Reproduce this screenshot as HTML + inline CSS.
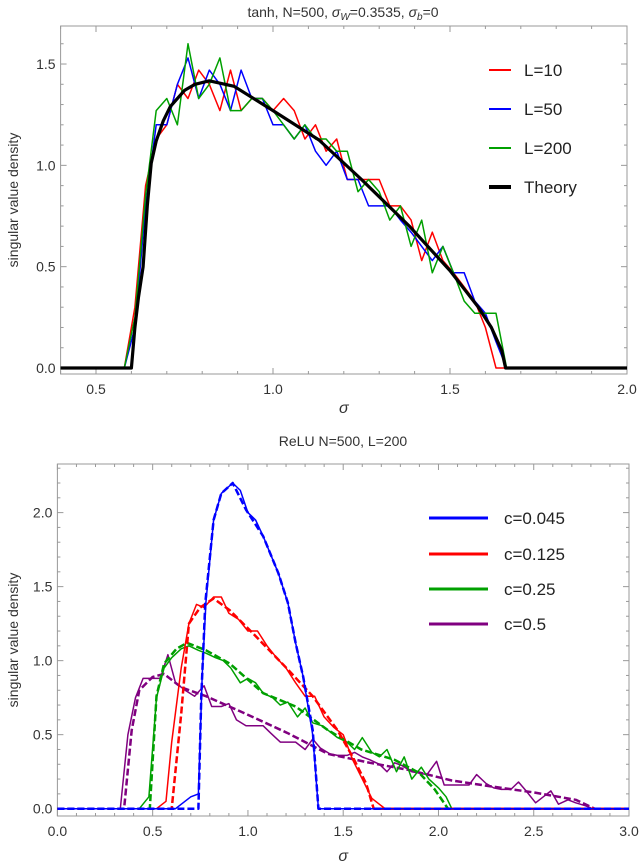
<!DOCTYPE html>
<html><head><meta charset="utf-8"><style>
html,body{margin:0;padding:0;background:#fff;}
svg{display:block;font-family:"Liberation Sans",sans-serif;}
</style></head><body>
<svg id="fig" width="640" height="865" viewBox="0 0 640 865">
<text x="343" y="17" text-anchor="middle" font-size="14" fill="#333">tanh, N=500, <tspan font-style="italic">σ</tspan><tspan font-style="italic" font-size="10" dy="3">W</tspan><tspan dy="-3">=0.3535, </tspan><tspan font-style="italic">σ</tspan><tspan font-style="italic" font-size="10" dy="3">b</tspan><tspan dy="-3">=0</tspan></text>
<text x="343" y="446" text-anchor="middle" font-size="14" fill="#333">ReLU N=500, L=200</text>
<g id="top"></g>
<g id="bot"></g>
</svg>
<script>
// ---- top chart data ----
const topX = [0.58,0.61,0.64,0.67,0.70,0.73,0.76,0.79,0.82,0.85,0.88,0.91,0.94,0.97,1.00,1.03,1.06,1.09,1.12,1.15,1.18,1.21,1.24,1.27,1.30,1.33,1.36,1.39,1.42,1.45,1.48,1.51,1.54,1.57,1.60,1.63,1.66];
const redL10 = [0,0.3,0.9,1.13,1.2,1.4,1.33,1.47,1.4,1.27,1.47,1.27,1.33,1.33,1.27,1.33,1.27,1.13,1.2,1.07,1.13,0.93,0.93,0.93,0.93,0.8,0.8,0.73,0.53,0.67,0.53,0.47,0.4,0.33,0.2,0,0];
const blueL50 = [0,0.2,0.8,1.2,1.2,1.4,1.53,1.33,1.47,1.4,1.27,1.47,1.33,1.33,1.2,1.2,1.13,1.2,1.07,1.0,1.07,0.93,0.93,0.8,0.8,0.8,0.73,0.67,0.6,0.53,0.6,0.47,0.47,0.33,0.27,0.13,0];
const greenL200 = [0,0.25,0.85,1.27,1.33,1.2,1.6,1.33,1.4,1.53,1.27,1.27,1.33,1.33,1.27,1.2,1.13,1.2,1.13,1.13,1.07,1.07,0.87,0.93,0.87,0.73,0.8,0.6,0.73,0.47,0.6,0.47,0.33,0.27,0.27,0.27,0];
const theoryX = [0.4,0.6,0.61,0.62,0.633,0.645,0.656,0.67,0.69,0.71,0.75,0.78,0.82,0.89,1.0,1.13,1.25,1.385,1.5,1.58,1.617,1.646,1.657,2.0];
const theoryY = [0,0,0.2,0.35,0.5,0.8,1.01,1.12,1.22,1.29,1.37,1.40,1.417,1.39,1.27,1.125,0.93,0.70,0.48,0.30,0.20,0.087,0,0];
const topXTicks = ["0.5","1.0","1.5","2.0"];
const topYTicks = ["0.0","0.5","1.0","1.5"];
// ---- bottom chart data ----
const blueThX = [0,0.74,0.755,0.776,0.82,0.86,0.92,0.99,1.08,1.16,1.21,1.25,1.29,1.34,1.37,3.0];
const blueThY = [0,0,0.76,1.39,1.95,2.13,2.2,2.02,1.84,1.59,1.39,1.12,0.89,0.53,0,0];
const blueEmX = [0,0.62,0.7,0.74,0.76,0.78,0.82,0.86,0.92,0.96,1.0,1.04,1.08,1.16,1.21,1.25,1.29,1.34,1.37,3.0];
const blueEmY = [0,0,0.08,0.1,0.9,1.4,1.95,2.13,2.2,2.15,2.0,1.95,1.84,1.59,1.39,1.12,0.89,0.5,0,0];
const redThX = [0,0.6,0.65,0.69,0.75,0.82,0.905,1.03,1.21,1.34,1.47,1.55,1.62,1.66,3.0];
const redThY = [0,0,0.64,1.25,1.36,1.42,1.34,1.18,0.94,0.76,0.53,0.35,0.17,0,0];
const redEmX = [0,0.52,0.57,0.6,0.65,0.69,0.73,0.77,0.82,0.86,0.9,0.95,1.0,1.05,1.1,1.15,1.2,1.25,1.3,1.35,1.4,1.45,1.5,1.55,1.6,1.65,1.72,3.0];
const redEmY = [0,0,0.05,0.45,0.95,1.25,1.38,1.36,1.43,1.43,1.32,1.28,1.2,1.2,1.1,1.02,0.95,0.85,0.76,0.76,0.62,0.55,0.5,0.33,0.2,0.07,0,0];
const greenThX = [0,0.485,0.52,0.56,0.625,0.68,0.78,0.905,1.08,1.25,1.42,1.595,1.77,1.9,1.98,2.05,3.0];
const greenThY = [0,0,0.76,0.98,1.08,1.12,1.07,0.98,0.78,0.69,0.53,0.40,0.33,0.24,0.13,0,0];
const greenEmX = [0,0.43,0.48,0.52,0.56,0.6,0.65,0.69,0.74,0.78,0.83,0.87,0.91,0.96,1.0,1.04,1.08,1.13,1.17,1.21,1.26,1.3,1.34,1.39,1.43,1.47,1.52,1.56,1.6,1.65,1.69,1.73,1.78,1.82,1.86,1.91,1.95,2.0,2.04,2.07,3.0];
const greenEmY = [0,0,0.08,0.75,0.95,1.02,1.08,1.1,1.07,1.05,1.02,1.0,0.95,0.85,0.88,0.85,0.78,0.75,0.7,0.72,0.62,0.68,0.58,0.56,0.52,0.48,0.45,0.4,0.48,0.38,0.35,0.4,0.25,0.35,0.2,0.28,0.2,0.14,0.08,0,0];
const purpThX = [0,0.35,0.39,0.43,0.5,0.56,0.65,0.78,0.99,1.21,1.42,1.64,1.85,2.07,2.28,2.5,2.72,2.82,3.0];
const purpThY = [0,0,0.53,0.8,0.89,0.91,0.82,0.76,0.64,0.51,0.37,0.31,0.26,0.19,0.15,0.11,0.06,0,0];
const purpEmX = [0,0.33,0.37,0.41,0.45,0.5,0.54,0.58,0.62,0.67,0.72,0.77,0.81,0.86,0.9,0.94,0.99,1.03,1.08,1.12,1.17,1.21,1.25,1.3,1.34,1.38,1.43,1.47,1.52,1.56,1.6,1.64,1.69,1.73,1.77,1.81,1.86,1.9,1.94,1.99,2.03,2.07,2.12,2.16,2.2,2.25,2.29,2.33,2.38,2.42,2.46,2.51,2.55,2.59,2.63,2.68,2.72,2.77,2.81,3.0];
const purpEmY = [0,0,0.5,0.75,0.88,0.88,0.88,1.04,0.85,0.8,0.76,0.83,0.69,0.69,0.71,0.6,0.56,0.56,0.56,0.51,0.45,0.45,0.45,0.4,0.47,0.41,0.37,0.36,0.36,0.38,0.35,0.33,0.3,0.25,0.31,0.29,0.25,0.24,0.23,0.32,0.16,0.16,0.16,0.16,0.23,0.17,0.14,0.13,0.13,0.18,0.12,0.04,0.08,0.12,0.03,0.06,0.04,0.02,0,0];
const botXTicks = ["0.0","0.5","1.0","1.5","2.0","2.5","3.0"];
const botYTicks = ["0.0","0.5","1.0","1.5","2.0"];

const NS="http://www.w3.org/2000/svg";
function mk(parent,tag,attrs){const e=document.createElementNS(NS,tag);for(const k in attrs)e.setAttribute(k,attrs[k]);parent.appendChild(e);return e;}

function axes(g,L,R,T,B,xmin,xmax,ymin,ymax,xt,yt,minorX,minorY,xlabelY){
  const sx=v=>L+(v-xmin)/(xmax-xmin)*(R-L);
  const sy=v=>B-(v-ymin)/(ymax-ymin)*(B-T);
  const fr=mk(g,'rect',{x:L,y:T,width:R-L,height:B-T,fill:'none',stroke:'#999','stroke-width':1});
  
  
  for(let v=Math.ceil(xmin/minorX-1e-6)*minorX;v<=xmax+1e-9;v+=minorX){
    const major=Math.abs(v/0.5-Math.round(v/0.5))<1e-6;const len=major?6:3;const x=sx(v);
    mk(g,'line',{x1:x,x2:x,y1:B,y2:B-len,stroke:'#999'});mk(g,'line',{x1:x,x2:x,y1:T,y2:T+len,stroke:'#999'});
  }
  for(let v=Math.ceil(ymin/minorY-1e-6)*minorY;v<=ymax+1e-9;v+=minorY){
    const major=Math.abs(v/0.5-Math.round(v/0.5))<1e-6;const len=major?6:3;const y=sy(v);
    mk(g,'line',{x1:L,x2:L+len,y1:y,y2:y,stroke:'#999'});mk(g,'line',{x1:R,x2:R-len,y1:y,y2:y,stroke:'#999'});
  }
  xt.forEach(s=>{const t=mk(g,'text',{x:sx(parseFloat(s)),y:B+20,'text-anchor':'middle','font-size':14,fill:'#333'});t.textContent=s;
    
    });
  yt.forEach(s=>{const t=mk(g,'text',{x:L-5,y:sy(parseFloat(s))+5,'text-anchor':'end','font-size':14,fill:'#333'});t.textContent=s;
    
    });
  const xl=mk(g,'text',{x:(L+R)/2,y:xlabelY,'text-anchor':'middle','font-size':16,'font-style':'italic',fill:'#333'});xl.textContent='σ';
  
  
  const yl=mk(g,'text',{x:0,y:0,'text-anchor':'middle','font-size':14,fill:'#333',transform:`translate(18,${(T+B)/2}) rotate(-90)`});yl.textContent='singular value density';
  
  
  return {sx,sy};
}
function series(g,ax,xs,ys,color,w,dash,name){
  const d=xs.map((x,i)=>(i?'L':'M')+ax.sx(x).toFixed(1)+','+ax.sy(ys[i]).toFixed(1)).join('');
  const p=mk(g,'path',{d,fill:'none',stroke:color,'stroke-width':w,'stroke-linejoin':'round'});
  if(dash)p.setAttribute('stroke-dasharray',dash);
  
  
}
function legend(g,x1,x2,tx,y,color,w,label,fs,name){
  const l=mk(g,'line',{x1,x2,y1:y,y2:y,stroke:color,'stroke-width':w});
  
  
  const t=mk(g,'text',{x:tx,y:y+6,'font-size':fs,fill:'#222'});t.textContent=label;
  
  
}
// top
const gt=document.getElementById('top');
const at=axes(gt,60.6,627,26,374,0.4,2.0,-0.0296,1.6876,topXTicks,topYTicks,0.1,0.1,413);
function ext(xs,ys){return [[0.4].concat(xs).concat([2.0]),[0].concat(ys).concat([0])];}
let e=ext(topX,redL10);series(gt,at,e[0],e[1],'#ff0000',1.5,null,'series-l10');
e=ext(topX,blueL50);series(gt,at,e[0],e[1],'#0000ff',1.5,null,'series-l50');
e=ext(topX,greenL200);series(gt,at,e[0],e[1],'#00a000',1.5,null,'series-l200');
series(gt,at,theoryX,theoryY,'#000',3.2,null,'series-theory');
legend(gt,489,511,524,70,'#ff0000',2,'L=10',17,'legend-entry-l10');
legend(gt,489,511,524,109,'#0000ff',2,'L=50',17,'legend-entry-l50');
legend(gt,489,511,524,148,'#00a000',2,'L=200',17,'legend-entry-l200');
legend(gt,489,511,524,187,'#000',4,'Theory',17,'legend-entry-theory');
// bottom
const gb=document.getElementById('bot');
const ab=axes(gb,57.4,629,464,816,0,3,-0.0495,2.3284,botXTicks,botYTicks,0.1,0.1,861);
series(gb,ab,purpEmX,purpEmY,'#800080',1.5,null,'series-c05');
series(gb,ab,purpThX,purpThY,'#800080',2.5,'7,3','series-c05-theory');
series(gb,ab,greenEmX,greenEmY,'#00a000',1.5,null,'series-c025');
series(gb,ab,greenThX,greenThY,'#00a000',2.5,'7,3','series-c025-theory');
series(gb,ab,redEmX,redEmY,'#ff0000',1.5,null,'series-c0125');
series(gb,ab,redThX,redThY,'#ff0000',2.5,'7,3','series-c0125-theory');
series(gb,ab,blueEmX,blueEmY,'#0000ff',1.5,null,'series-c0045');
series(gb,ab,blueThX,blueThY,'#0000ff',2.5,'7,3','series-c0045-theory');
legend(gb,429,488,504,518,'#0000ff',3,'c=0.045',17,'legend-entry-c0045');
legend(gb,429,488,504,554,'#ff0000',3,'c=0.125',17,'legend-entry-c0125');
legend(gb,429,488,504,589,'#00a000',3,'c=0.25',17,'legend-entry-c025');
legend(gb,429,488,504,624,'#800080',3,'c=0.5',17,'legend-entry-c05');
</script>
</body></html>
